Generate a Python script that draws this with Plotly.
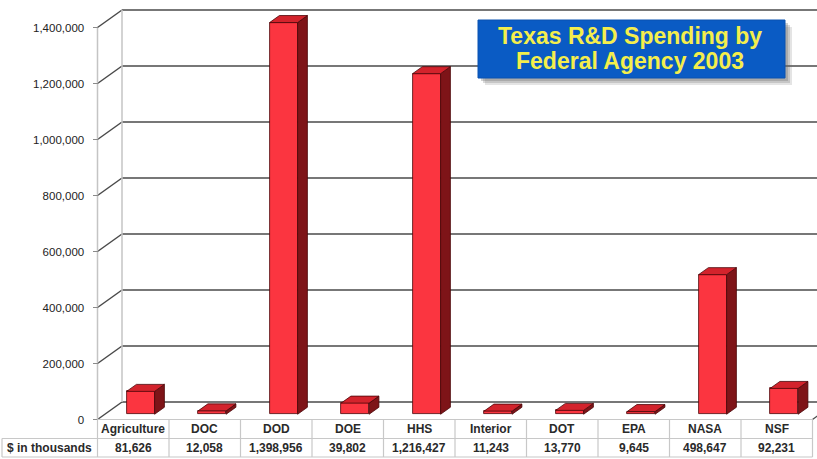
import plotly.graph_objects as go

# ---------------- data ----------------
categories = ["Agriculture", "DOC", "DOD", "DOE", "HHS", "Interior", "DOT", "EPA", "NASA", "NSF"]
values = [81626, 12058, 1398956, 39802, 1216427, 11243, 13770, 9645, 498647, 92231]
tick_vals = [0, 200000, 400000, 600000, 800000, 1000000, 1200000, 1400000]
row_label = "$ in thousands"
title_lines = ["Texas R&D Spending by", "Federal Agency 2003"]

# ---------------- geometry (pixels) ----------------
W, H = 817, 459
X0 = 97.5          # pixel of category edge -0.5 (front plane)
CW = 71.5          # pixels per category
Y0 = 419.5         # pixel of value 0 (front plane)
PPU = 392.0 / 1400000.0  # pixels per value unit
DEPTH_X, DEPTH_Y = 24.5, 17.5   # 3D depth offset in pixels
F0, F1 = 0.3, 0.7               # bar depth span (fraction of floor depth)
BAR_HALF_PX = 14.0

def px_to_x(px):
    return -0.5 + (px - X0) / CW

def px_to_y(py):
    return (Y0 - py) / PPU

dx = DEPTH_X / CW
dy = DEPTH_Y / PPU
hw = BAR_HALF_PX / CW
n = len(categories)
x_left = -0.5
x_right = n - 0.5
ymax = tick_vals[-1]

RED = "#fb3540"
TOP = "#d3232c"
SIDE = "#7e1418"
EDGE = "#4a0507"
GRID = "#4a4a4a"
WALL = "#c4c4c4"
TABLE = "#c8c8c8"
FONT = "Arial, Liberation Sans, sans-serif"

fig = go.Figure()

# front faces of the bars
fig.add_trace(go.Bar(
    x=[i + F0 * dx for i in range(n)],
    y=values,
    base=F0 * dy,
    width=2 * hw,
    marker=dict(color=RED, line=dict(color=EDGE, width=0.8)),
    hoverinfo="skip",
))

# side and top faces
sx, sy, tx, ty = [], [], [], []
ddx = (F1 - F0) * dx
ddy = (F1 - F0) * dy
for i, v in enumerate(values):
    xl = i + F0 * dx - hw
    xr = i + F0 * dx + hw
    b = F0 * dy
    t = v + F0 * dy
    sx += [xr, xr, xr + ddx, xr + ddx, xr, None]
    sy += [b, t, t + ddy, b + ddy, b, None]
    tx += [xl, xr, xr + ddx, xl + ddx, xl, None]
    ty += [t, t, t + ddy, t + ddy, t, None]

fig.add_trace(go.Scatter(x=sx, y=sy, mode="lines", fill="toself", fillcolor=SIDE,
                         line=dict(color=EDGE, width=0.8), hoverinfo="skip"))
fig.add_trace(go.Scatter(x=tx, y=ty, mode="lines", fill="toself", fillcolor=TOP,
                         line=dict(color=EDGE, width=0.8), hoverinfo="skip"))

shapes = []
# back wall gridlines and left-wall diagonals
for v in tick_vals:
    shapes.append(dict(type="line", xref="x", yref="y", layer="below",
                       x0=x_left + dx, x1=px_to_x(W + 40), y0=v + dy, y1=v + dy,
                       line=dict(color=GRID, width=1.5)))
    shapes.append(dict(type="line", xref="x", yref="y", layer="below",
                       x0=x_left, x1=x_left + dx, y0=v, y1=v + dy,
                       line=dict(color=GRID, width=1.5)))
# vertical wall edges
shapes.append(dict(type="line", xref="x", yref="y", layer="below",
                   x0=x_left + dx, x1=x_left + dx, y0=dy, y1=ymax + dy,
                   line=dict(color=WALL, width=1.5)))
shapes.append(dict(type="line", xref="x", yref="y", layer="below",
                   x0=x_left, x1=x_left, y0=0, y1=ymax,
                   line=dict(color=WALL, width=1.5)))
# floor right diagonal
shapes.append(dict(type="line", xref="x", yref="y", layer="below",
                   x0=x_right, x1=x_right + dx, y0=0, y1=dy,
                   line=dict(color=GRID, width=1.2)))

# data table grid
row1_top = 0
row1_bot = px_to_y(438.5)
row2_bot = px_to_y(457.0)
lab_left = px_to_x(2.0)
shapes.append(dict(type="line", xref="x", yref="y", x0=x_left, x1=x_right, y0=row1_top, y1=row1_top,
                   line=dict(color=TABLE, width=1.2)))
for yy in (row1_bot, row2_bot):
    shapes.append(dict(type="line", xref="x", yref="y", x0=lab_left, x1=x_right, y0=yy, y1=yy,
                       line=dict(color=TABLE, width=1.2)))
for k in range(n + 1):
    shapes.append(dict(type="line", xref="x", yref="y", x0=x_left + k, x1=x_left + k,
                       y0=row1_top, y1=row2_bot, line=dict(color=TABLE, width=1.2)))
shapes.append(dict(type="line", xref="x", yref="y", x0=lab_left, x1=lab_left,
                   y0=row1_bot, y1=row2_bot, line=dict(color=TABLE, width=1.2)))

# title box with shadow
bx0, bx1, by0, by1 = 478, 785, 20, 78
def pxr(x):
    return x / W
def pyr(y):
    return 1 - y / H
for off, op in ((7, 0.18), (5, 0.25), (3, 0.3)):
    shapes.append(dict(type="rect", xref="paper", yref="paper",
                       x0=pxr(bx0 + off), x1=pxr(bx1 + off), y0=pyr(by1 + off), y1=pyr(by0 + off),
                       fillcolor="#6a6a6a", opacity=op, line=dict(width=0)))
shapes.append(dict(type="rect", xref="paper", yref="paper",
                   x0=pxr(bx0), x1=pxr(bx1), y0=pyr(by1), y1=pyr(by0),
                   fillcolor="#0a5bc4", line=dict(color="#0a52b0", width=1)))

annotations = []
for yc, line in zip((36, 61), title_lines):
    annotations.append(dict(xref="paper", yref="paper", x=pxr(630), y=pyr(yc),
                            text="<b>" + line + "</b>", showarrow=False,
                            xanchor="center", yanchor="middle",
                            font=dict(family=FONT, size=23, color="#f4ee4c")))

tfont = dict(family=FONT, size=12, color="#2a2a2a")
for i, (c, v) in enumerate(zip(categories, values)):
    annotations.append(dict(xref="x", yref="y", x=i, y=(row1_top + row1_bot) / 2,
                            text="<b>" + c + "</b>", showarrow=False, font=tfont,
                            xanchor="center", yanchor="middle"))
    annotations.append(dict(xref="x", yref="y", x=i, y=(row1_bot + row2_bot) / 2,
                            text="<b>" + f"{v:,}" + "</b>", showarrow=False, font=tfont,
                            xanchor="center", yanchor="middle"))
annotations.append(dict(xref="x", yref="y", x=(lab_left + x_left) / 2, y=(row1_bot + row2_bot) / 2,
                        text="<b>" + row_label + "</b>", showarrow=False, font=tfont,
                        xanchor="center", yanchor="middle"))

fig.update_layout(
    width=W, height=H, autosize=False,
    margin=dict(l=0, r=0, t=0, b=0, pad=0),
    paper_bgcolor="white", plot_bgcolor="white",
    showlegend=False, hovermode=False,
    bargap=0,
    shapes=shapes, annotations=annotations,
    xaxis=dict(range=[px_to_x(0), px_to_x(W)], domain=[0, 1], visible=False, fixedrange=True),
    yaxis=dict(range=[px_to_y(H), px_to_y(0)], domain=[0, 1], anchor="free", position=X0 / W,
               tickvals=tick_vals, tickformat=",d", ticks="outside", ticklen=5,
               tickcolor="#8a8a8a", tickwidth=1, ticklabelstandoff=6,
               showgrid=False, zeroline=False, showline=False,
               tickfont=dict(family=FONT, size=11.5, color="#222222"), fixedrange=True),
)

fig.write_html("out.html")
